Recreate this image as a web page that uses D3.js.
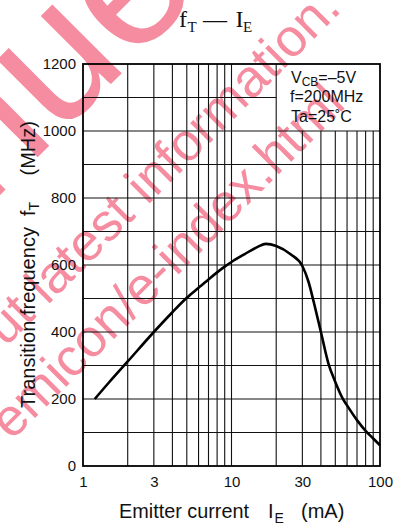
<!DOCTYPE html>
<html>
<head>
<meta charset="utf-8">
<script src="https://cdn.jsdelivr.net/npm/d3@7"></script>
<style>
  html, body { margin: 0; padding: 0; background: #fff; }
  svg { display: block; }
</style>
</head>
<body>
<script>
// ---- data ----
const currentIE = [1.2, 1.5, 2, 3, 4, 5, 6, 7, 8, 9, 10, 12, 15, 17, 20, 25, 30, 33, 36, 40, 45, 50, 56, 60, 70, 80, 90, 100];
const freqFT    = [200, 250, 312, 400, 459, 502, 532, 557, 578, 595, 609, 630, 654, 663, 657, 632, 597, 550, 485, 400, 305, 251, 202, 181, 137, 105, 82, 62];
const xTickValues = [1, 3, 10, 30, 100];
const yTickValues = [0, 200, 400, 600, 800, 1000, 1200];
const xGridValues = [2, 3, 4, 5, 6, 7, 8, 9, 10, 20, 30, 40, 50, 60, 70, 80, 90];
const yGridValues = [100, 200, 300, 400, 500, 600, 700, 800, 900, 1000, 1100];
const legendLines = ["V", "CB", "=\u20135V", "f=200MHz", "Ta=25\u02DAC"];
const watermarkTexts = ["nued", "out latest information.", "emicon/e-index.html"];

const W = 406, H = 529;
const svg = d3.select("body").append("svg").attr("width", W).attr("height", H);

const sans = "'Liberation Sans', Arial, Helvetica, sans-serif";
const serif = "'Liberation Serif', 'Times New Roman', serif";
const pink = "rgb(245,140,160)";

// ---- watermark (underneath) ----
const wm = svg.append("g").attr("fill", pink).attr("font-family", sans);
wm.append("text").attr("transform", "translate(-15,210) rotate(-45)")
  .attr("font-size", 185).attr("text-anchor", "start").text(watermarkTexts[0]);
wm.append("text").attr("transform", "translate(343,10) rotate(-45)")
  .attr("font-size", 53).attr("text-anchor", "end").text(watermarkTexts[1]);
wm.append("text").attr("transform", "translate(347,106) rotate(-45)")
  .attr("font-size", 53).attr("text-anchor", "end").text(watermarkTexts[2]);

// ---- scales ----
const x = d3.scaleLog().domain([1, 100]).range([83, 380]);
const y = d3.scaleLinear().domain([0, 1200]).range([466, 64]);

// ---- grid ----
const grid = svg.append("g").attr("stroke", "#111").attr("stroke-width", 1.1);
grid.selectAll("line.v").data(xGridValues).join("line")
  .attr("x1", d => x(d)).attr("x2", d => x(d))
  .attr("y1", y(0))
  .attr("y2", d => d > 20 ? y(1000) : y(1200));
grid.selectAll("line.h").data(yGridValues).join("line")
  .attr("y1", d => y(d)).attr("y2", d => y(d))
  .attr("x1", x(1))
  .attr("x2", d => d > 1000 ? x(20) : x(100));

// frame
svg.append("rect")
  .attr("x", x(1)).attr("y", y(1200))
  .attr("width", x(100) - x(1)).attr("height", y(0) - y(1200))
  .attr("fill", "none").attr("stroke", "#000").attr("stroke-width", 1.8);

// ---- axes (labels only) ----
const yAxis = svg.append("g").attr("transform", `translate(${x(1)},0)`)
  .call(d3.axisLeft(y).tickValues(yTickValues).tickFormat(d3.format("d")).tickSize(0).tickPadding(7));
const xAxis = svg.append("g").attr("transform", `translate(0,${y(0)})`)
  .call(d3.axisBottom(x).tickValues(xTickValues).tickFormat(d3.format("d")).tickSize(0).tickPadding(10.5));
[yAxis, xAxis].forEach(g => {
  g.select(".domain").remove();
  g.selectAll("text").attr("font-family", sans).attr("font-size", 15).attr("fill", "#111");
});

// ---- curve ----
const pts = currentIE.map((d, i) => [d, freqFT[i]]);
svg.append("path").datum(pts)
  .attr("fill", "none").attr("stroke", "#000").attr("stroke-width", 2.6)
  .attr("stroke-linejoin", "round").attr("stroke-linecap", "butt")
  .attr("d", d3.line().x(d => x(d[0])).y(d => y(d[1])).curve(d3.curveMonotoneX));

// ---- legend ----
const lg = svg.append("g").attr("font-family", sans).attr("font-size", 16).attr("fill", "#111");
const l1 = lg.append("text").attr("x", 291).attr("y", 83);
l1.append("tspan").text(legendLines[0]);
l1.append("tspan").attr("font-size", 12).attr("dy", 3).text(legendLines[1]);
l1.append("tspan").attr("dy", -3).text(legendLines[2]);
lg.append("text").attr("x", 290).attr("y", 102).text(legendLines[3]);
lg.append("text").attr("x", 291).attr("y", 122).text(legendLines[4]);

// ---- title ----
const tt = svg.append("text").attr("font-family", serif).attr("font-size", 24).attr("fill", "#111").attr("y", 26.7);
tt.append("tspan").attr("x", 179).text("f");
tt.append("tspan").attr("x", 187.5).attr("font-size", 15).attr("dy", 5).text("T");
tt.append("tspan").attr("x", 203).attr("dy", -5).text("\u2014");
tt.append("tspan").attr("x", 235.5).text("I");
tt.append("tspan").attr("x", 243).attr("font-size", 15).attr("dy", 5).text("E");

// ---- axis titles ----
const xtG = svg.append("g").attr("font-family", sans).attr("font-size", 20).attr("fill", "#111");
xtG.append("text").attr("x", 119).attr("y", 518)
  .attr("textLength", 130).attr("lengthAdjust", "spacingAndGlyphs").text("Emitter current");
const xt2 = xtG.append("text").attr("y", 518);
xt2.append("tspan").attr("x", 268).text("I");
xt2.append("tspan").attr("x", 274.5).attr("font-size", 14).attr("dy", 5).text("E");
xt2.append("tspan").attr("x", 301).attr("dy", -5).text("(mA)");

const ytG = svg.append("g").attr("font-family", sans).attr("font-size", 20).attr("fill", "#111")
  .attr("transform", "translate(34.5,0) rotate(-90)");
ytG.append("text").attr("x", -408).attr("y", 0)
  .attr("textLength", 181).attr("lengthAdjust", "spacingAndGlyphs").text("Transition frequency");
const yt2 = ytG.append("text").attr("y", 0);
yt2.append("tspan").attr("x", -216).text("f");
yt2.append("tspan").attr("x", -210.5).attr("font-size", 14).attr("dy", 4).text("T");
yt2.append("tspan").attr("x", -175.5).attr("dy", -4).text("(MHz)");
</script>
</body>
</html>
